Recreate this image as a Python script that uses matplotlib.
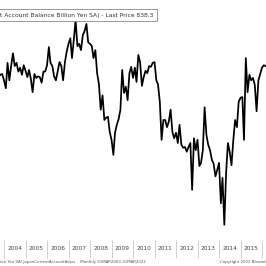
import numpy as np
import pandas as pd
import matplotlib
matplotlib.use("Agg")
import matplotlib.pyplot as plt

# Japan current account balance, billion yen SA, monthly from Oct 2003
balance = [
    1790, 1810, 1820, 1740, 1640, 1960, 1740, 1920, 2080, 1920,
    1960, 1850, 1900, 1810, 1930, 1860, 1780, 1870, 1760, 1590,
    1820, 1770, 1790, 1780, 1710, 1850, 1850, 1930, 2160, 1960,
    1920, 1790, 1740, 1850, 1970, 1920, 1740, 1970, 2100, 2200,
    2270, 2020, 2250, 2500, 2170, 2200, 2120, 2310, 2360, 2450,
    2220, 2200, 2170, 2020, 2120, 1830, 1690, 1370, 1550, 1240,
    1270, 1280, 1090, 990, 800, 1080, 1180, 1250, 1370, 1870,
    1580, 1660, 1490, 1830, 1910, 1770, 1900, 1720, 2060, 1970,
    1670, 1780, 1860, 1830, 1920, 1910, 1960, 1970, 1740, 1690,
    1470, 990, 1240, 1240, 1150, 1220, 1370, 1090, 1010, 1080,
    950, 1180, 930, 890, 900, 840, 900, 950, 360, 1010,
    860, 990, 660, 700, 860, 1400, 1050, 930, 860, 740,
    690, 530, 610, 700, 190, 510, -80, 570, 950, 840,
    670, 990, 1240, 1150, 1470, 1520, 1530, 990, 2020, 1590,
    1810, 1740, 1770, 1680, 1350, 1740, 1820, 1900, 1930, 1920,
]
dates = pd.date_range("2003-10-01", periods=len(balance), freq="MS")

years = list(range(2003, 2017))
title = "t Account Balance Billion Yen SA) - Last Price 838.3"
foot_left = "ion Yen SA) JapanCurrentAccountAdjus    Monthly 31MAR2003-31MAR2022"
foot_right = "Copyright 2022 Bloomberg Finance L.P."

fig = plt.figure(figsize=(2.66, 2.66), dpi=100)
ax = fig.add_axes([0, 26 / 266, 1, 240 / 266])
ax.plot(dates, balance, color="black", lw=1.25)

# year boundaries as long ticks, labels centred in between
ax.set_xticks([pd.Timestamp(f"{y}-01-01") for y in years])
ax.set_xticks([pd.Timestamp(f"{y}-07-01") for y in years], minor=True)
ax.set_xticklabels([])
ax.set_xticklabels([str(y) for y in years], minor=True)
ax.tick_params(axis="x", which="major", direction="out", length=13,
               width=0.6, color="#c8c8c8")
ax.tick_params(axis="x", which="minor", length=0, pad=4,
               labelsize=4.2, labelcolor="#444444")
ax.set_yticks([])
for s in ax.spines.values():
    s.set_visible(False)

# limits after the ticks, so the ticks do not widen the view
ax.set_xlim(pd.Timestamp("2003-10-25"), pd.Timestamp("2016-03-09"))
ax.set_ylim(-272, 2752)

ax.text(0.0, 0.937, title, transform=ax.transAxes, ha="left", va="center",
        fontsize=4.3, color="#333333",
        bbox=dict(boxstyle="square,pad=0.55", fc="white", ec="#888888", lw=0.6))

fig.text(0.0, 1.5 / 266, foot_left, ha="left", va="bottom", fontsize=2.8, color="#555555")
fig.text(220 / 266, 1.5 / 266, foot_right, ha="left", va="bottom", fontsize=2.8, color="#555555")

fig.savefig("out.png", dpi=100, facecolor="white")
